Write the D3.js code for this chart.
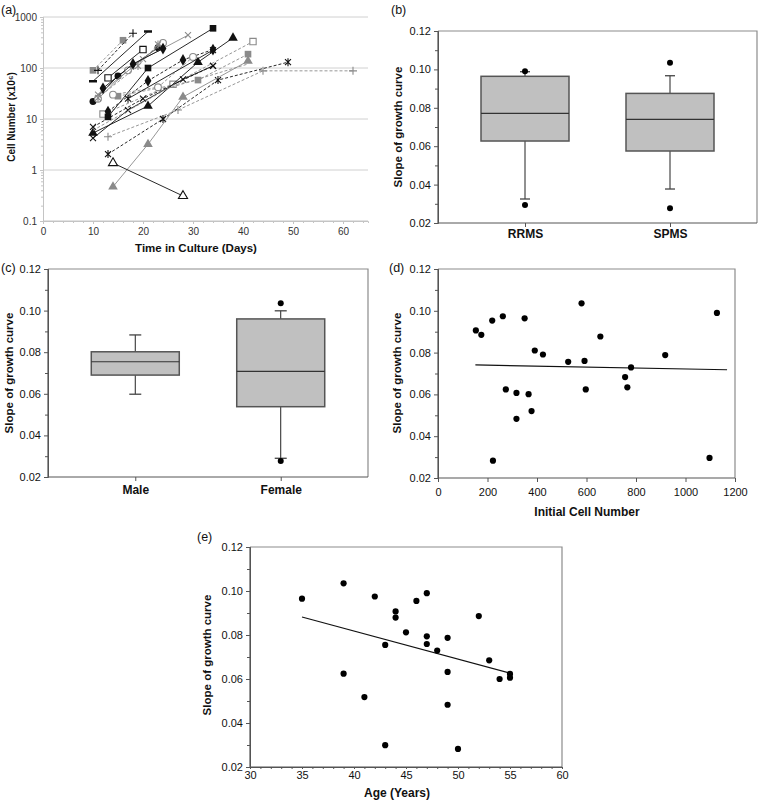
<!DOCTYPE html>
<html><head><meta charset="utf-8">
<script src="https://cdn.jsdelivr.net/npm/d3@7"></script>
<style>body{margin:0;background:#fff}</style>
</head><body>
<script>
// ---------- Panel (a): growth curves ----------
const aDays = [[10,16],[11,18],[10,21],[13,20],[10,15,23],[11,17,24],[11,20,29],[11,19,23],[12,18,24],[12,26,42],[13,21,34],[10,21,31,38],[13,21,28,34],[10,17,28,34],[10,20,34],[13,27,44,62],[13,24,35,49],[14,21,28,41],[14,28],[15,31,41],[14,23,30],[17,34],[10,25,41]];
const aCells = [[90,350],[90,480],[55,520],[64,230],[22,70,250],[25,90,310],[30,150,440],[26,110,290],[40,120,240],[12.5,48,330],[11,100,600],[5.3,18,130,390],[14,56,144,230],[4.2,15,60,110],[7,25,110],[4.5,15,88,88],[2.05,10,58,130],[0.47,3.2,27,137],[1.37,0.31],[28,58,187],[30,42,165],[25,225],[6,40,120]];
const aMarker = ['sq','plus','dash','sqo','cir','ciro','x','ast','dia','sqo','sq','tri','dia','x','x','plus','ast','tri','trio','sq','ciro','ast','none'];
const aTone = ['g','k','k','k','k','g','g','g','k','g','k','k','k','k','k','g','k','g','k','g','g','k','g'];
const aDashed = [1,1,0,0,0,0,0,1,0,1,0,0,1,0,1,1,1,0,0,1,1,0,1];
const aYTicks = [0.1,1,10,100,1000];
const aXTicks = [0,10,20,30,40,50,60];

// ---------- Panel (b): MS type ----------
const bCats = ['RRMS','SPMS'];
const bQ1 = [0.0627,0.0575], bMed = [0.0771,0.0740], bQ3 = [0.0964,0.0875];
const bLo = [0.0325,0.0377], bHi = [0.0988,0.0967];
const bOut = [[0.0990,0.0294],[0.1035,0.0277]];

// ---------- Panel (c): sex ----------
const cCats = ['Male','Female'];
const cQ1 = [0.0690,0.0538], cMed = [0.0754,0.0708], cQ3 = [0.0802,0.0960];
const cLo = [0.0598,0.0290], cHi = [0.0883,0.0999];
const cOut = [[],[0.1035,0.0277]];

// ---------- Panel (d): initial cell number ----------
const dX = [153,175,219,262,350,580,1127,656,391,424,526,592,780,918,756,765,597,274,317,366,378,317,222,1097];
const dY = [0.0906,0.0885,0.0953,0.0974,0.0964,0.1036,0.0990,0.0877,0.0810,0.0791,0.0756,0.0760,0.0729,0.0788,0.0683,0.0634,0.0624,0.0624,0.0607,0.0601,0.0520,0.0483,0.0283,0.0296];
const dFitX = [151,1168], dFitY = [0.0741,0.0718];

// ---------- Panel (e): age ----------
const eX = [35,39,39,41,42,43,43,44,44,45,46,47,47,47,48,49,49,49,50,52,53,54,55,55];
const eY = [0.0965,0.1035,0.0624,0.0518,0.0975,0.0755,0.0299,0.0907,0.0879,0.0812,0.0955,0.0990,0.0794,0.0759,0.0729,0.0787,0.0632,0.0483,0.0282,0.0886,0.0685,0.0600,0.0623,0.0606];
const eFitX = [35,55], eFitY = [0.0882,0.0627];

const slopeTicks = [0.02,0.04,0.06,0.08,0.10,0.12];
const slopeMinor = [0.03,0.05,0.07,0.09,0.11];

// ================= drawing =================
const svg = d3.select('body').append('svg').attr('width',760).attr('height',805)
  .style('font-family','"Liberation Sans", Arial, Helvetica, sans-serif');
svg.append('rect').attr('width',760).attr('height',805).attr('fill','#fff');

const AX = '#555', FR = '#8c8c8c';
const TONE = {k:'#111', g:'#8a8a8a'};

function panelLabel(txt,x,y){
  svg.append('text').attr('x',x).attr('y',y).attr('font-size',12.5).attr('fill','#111').text(txt);
}
function styleAxis(sel,col,txtCol,fs,bold){
  sel.select('.domain').attr('stroke',col);
  sel.selectAll('.tick line').attr('stroke',col);
  sel.selectAll('.tick text').attr('fill',txtCol).attr('font-size',fs)
     .attr('font-family','"Liberation Sans", Arial, sans-serif')
     .attr('font-weight',bold?'bold':'normal');
}
function yTitle(txt,x,y,fs){
  svg.append('text').attr('transform',`translate(${x},${y}) rotate(-90)`)
    .attr('text-anchor','middle').attr('dy','0.35em').attr('font-weight','bold')
    .attr('font-size',fs).attr('fill','#111').text(txt);
}
function xTitle(txt,x,y,fs){
  svg.append('text').attr('x',x).attr('y',y).attr('text-anchor','middle')
    .attr('font-weight','bold').attr('font-size',fs).attr('fill','#111').text(txt);
}

// ---------- (a) ----------
(function(){
  const P={x0:43,x1:368,y0:17,y1:221};
  const x=d3.scaleLinear().domain([0,65]).range([P.x0,P.x1]);
  const y=d3.scaleLog().domain([0.1,1000]).range([P.y1,P.y0]);
  const g=svg.append('g');
  g.selectAll('line.grid').data(aYTicks.slice(1)).join('line')
    .attr('x1',P.x0).attr('x2',P.x1).attr('y1',d=>y(d)).attr('y2',d=>y(d))
    .attr('stroke','#d0d0d0');
  const minorY = y.ticks().filter(v=>aYTicks.indexOf(v)<0);
  const ym=g.append('g').attr('transform',`translate(${P.x0},0)`)
    .call(d3.axisLeft(y).tickValues(minorY).tickFormat('').tickSize(2));
  styleAxis(ym,'#c4c4c4','#333',10);
  const ya=g.append('g').attr('transform',`translate(${P.x0},0)`)
    .call(d3.axisLeft(y).tickValues(aYTicks).tickFormat(d=>String(d)).tickSize(3).tickPadding(3));
  styleAxis(ya,'#c4c4c4','#333',10);
  const xm=g.append('g').attr('transform',`translate(0,${P.y1})`)
    .call(d3.axisBottom(x).tickValues(d3.range(0,65,2)).tickFormat('').tickSize(2));
  styleAxis(xm,'#c4c4c4','#333',10);
  const xa=g.append('g').attr('transform',`translate(0,${P.y1})`)
    .call(d3.axisBottom(x).tickValues(aXTicks).tickSize(3).tickPadding(4));
  styleAxis(xa,'#c4c4c4','#333',10);
  xa.select('.domain').attr('d',`M${P.x0},0H${P.x1}`);

  const line=d3.line().x(d=>x(d[0])).y(d=>y(d[1]));
  const series=aDays.map((ds,i)=>({i, pts:ds.map((d,j)=>[d,aCells[i][j]]), m:aMarker[i], c:TONE[aTone[i]], dash:aDashed[i]}));
  const sg=g.selectAll('g.s').data(series).join('g');
  sg.append('path').attr('d',d=>line(d.pts)).attr('fill','none')
    .attr('stroke',d=>d.c).attr('stroke-width',0.9)
    .attr('stroke-dasharray',d=>d.dash?'3,2':null);
  const shapes={
    sq:d3.symbol(d3.symbolSquare,44)(), sqo:d3.symbol(d3.symbolSquare,40)(),
    dia:d3.symbol(d3.symbolDiamond,40)(), cir:d3.symbol(d3.symbolCircle,38)(),
    ciro:d3.symbol(d3.symbolCircle,36)(), tri:d3.symbol(d3.symbolTriangle,40)(),
    trio:d3.symbol(d3.symbolTriangle,36)(),
    x:'M-3,-3L3,3M-3,3L3,-3', plus:'M-4,0L4,0M0,-4L0,4',
    ast:'M-3,-3L3,3M-3,3L3,-3M0,-4L0,4', dash:'M-4,0L4,0', none:''
  };
  sg.each(function(s){
    d3.select(this).selectAll('path.m').data(s.pts).join('path').attr('class','m')
      .attr('transform',d=>`translate(${x(d[0])},${y(d[1])})`)
      .attr('d',shapes[s.m])
      .attr('fill',()=>{
        if(s.m==='sqo'||s.m==='ciro'||s.m==='trio') return '#fff';
        if(['x','plus','ast','dash','none'].indexOf(s.m)>=0) return 'none';
        return s.c; })
      .attr('stroke',()=>(['sq','dia','cir','tri'].indexOf(s.m)>=0)?'none':s.c)
      .attr('stroke-width',s.m==='dash'?2.5:1.1);
  });
  yTitle('Cell Number (x10\u2076)',11,117,10);
  xTitle('Time in Culture (Days)',196,252,11.5);
  panelLabel('(a)',1,14);
})();

// ---------- box panels ----------
function boxPanel(P,cats,q1,med,q3,lo,hi,outs,capW,pad){
  const g=svg.append('g');
  const x=d3.scalePoint().domain(cats).range([P.x0,P.x1]).padding(0.6);
  const y=d3.scaleLinear().domain([0.02,0.12]).range([P.y1,P.y0]);
  g.append('path').attr('d',`M${P.x0},${P.y0}H${P.x1}V${P.y1}`).attr('fill','none').attr('stroke',FR).attr('stroke-width',1.2);
  const bw=88;
  const data=cats.map((c,i)=>({c,q1:q1[i],med:med[i],q3:q3[i],lo:lo[i],hi:hi[i],out:outs[i]}));
  const bg=g.selectAll('g.b').data(data).join('g');
  bg.append('line').attr('x1',d=>x(d.c)).attr('x2',d=>x(d.c)).attr('y1',d=>y(d.q3)).attr('y2',d=>y(d.hi)).attr('stroke','#222');
  bg.append('line').attr('x1',d=>x(d.c)).attr('x2',d=>x(d.c)).attr('y1',d=>y(d.q1)).attr('y2',d=>y(d.lo)).attr('stroke','#222');
  bg.append('line').attr('x1',d=>x(d.c)-capW/2).attr('x2',d=>x(d.c)+capW/2).attr('y1',d=>y(d.hi)).attr('y2',d=>y(d.hi)).attr('stroke','#444').attr('stroke-width',1.3);
  bg.append('line').attr('x1',d=>x(d.c)-capW/2).attr('x2',d=>x(d.c)+capW/2).attr('y1',d=>y(d.lo)).attr('y2',d=>y(d.lo)).attr('stroke','#444').attr('stroke-width',1.3);
  bg.append('rect').attr('x',d=>x(d.c)-bw/2).attr('width',bw).attr('y',d=>y(d.q3)).attr('height',d=>y(d.q1)-y(d.q3))
    .attr('fill','#c0c0c0').attr('stroke','#555').attr('stroke-width',1.5);
  bg.append('line').attr('x1',d=>x(d.c)-bw/2).attr('x2',d=>x(d.c)+bw/2).attr('y1',d=>y(d.med)).attr('y2',d=>y(d.med)).attr('stroke','#333').attr('stroke-width',1.2);
  bg.each(function(d){
    d3.select(this).selectAll('circle').data(d.out).join('circle')
      .attr('cx',x(d.c)).attr('cy',v=>y(v)).attr('r',3).attr('fill','#000');
  });
  axesSlope(g,P,y);
  const xa=g.append('g').attr('transform',`translate(0,${P.y1})`).call(d3.axisBottom(x).tickSize(4).tickPadding(pad));
  styleAxis(xa,AX,'#111',12,true);
  xa.select('.domain').attr('d',`M${P.x0},0H${P.x1}`);
}
function axesSlope(g,P,y){
  const ym=g.append('g').attr('transform',`translate(${P.x0},0)`)
    .call(d3.axisLeft(y).tickValues(slopeMinor).tickFormat('').tickSize(3));
  styleAxis(ym,AX,'#111',11);
  const ya=g.append('g').attr('transform',`translate(${P.x0},0)`)
    .call(d3.axisLeft(y).tickValues(slopeTicks).tickFormat(d3.format('.2f')).tickSize(4).tickPadding(3));
  styleAxis(ya,AX,'#111',11);
  ya.select('.domain').attr('d',`M0,${P.y1}V${P.y0}`).attr('stroke-width',1.2);
}
function scatterPanel(P,xd,xs,ys,fx,fy,xt,xminor,tsz,pad){
  const g=svg.append('g');
  const x=d3.scaleLinear().domain(xd).range([P.x0,P.x1]);
  const y=d3.scaleLinear().domain([0.02,0.12]).range([P.y1,P.y0]);
  g.append('path').attr('d',`M${P.x0},${P.y0}H${P.x1}V${P.y1}`).attr('fill','none').attr('stroke',FR).attr('stroke-width',1.2);
  axesSlope(g,P,y);
  if(xminor){
    const xm=g.append('g').attr('transform',`translate(0,${P.y1})`)
      .call(d3.axisBottom(x).tickValues(xminor).tickFormat('').tickSize(2));
    styleAxis(xm,AX,'#111',11);
  }
  const xa=g.append('g').attr('transform',`translate(0,${P.y1})`)
    .call(d3.axisBottom(x).tickValues(xt).tickFormat(d3.format('d')).tickSize(tsz).tickPadding(pad));
  styleAxis(xa,AX,'#111',11);
  xa.select('.domain').attr('d',`M${P.x0},0H${P.x1}`).attr('stroke-width',1.2);
  g.append('path').datum(fx.map((v,i)=>[v,fy[i]]))
    .attr('d',d3.line().x(d=>x(d[0])).y(d=>y(d[1]))).attr('stroke','#111').attr('stroke-width',1.2).attr('fill','none');
  g.selectAll('circle').data(xs.map((v,i)=>[v,ys[i]])).join('circle')
    .attr('cx',d=>x(d[0])).attr('cy',d=>y(d[1])).attr('r',3.1).attr('fill','#000');
}

boxPanel({x0:438,x1:757,y0:31,y1:223},bCats,bQ1,bMed,bQ3,bLo,bHi,bOut,10,2);
yTitle('Slope of growth curve',398,127,11.5);
panelLabel('(b)',391,14);

boxPanel({x0:48,x1:368,y0:269,y1:477},cCats,cQ1,cMed,cQ3,cLo,cHi,cOut,12,4);
yTitle('Slope of growth curve',9,373,11.5);
panelLabel('(c)',1,272);

scatterPanel({x0:438,x1:735,y0:269,y1:478},[0,1200],dX,dY,dFitX,dFitY,d3.range(0,1201,200),null,4,6);
yTitle('Slope of growth curve',397,373,11.5);
xTitle('Initial Cell Number',587,516,12);
panelLabel('(d)',389,272);

scatterPanel({x0:250,x1:562,y0:547,y1:767},[30,60],eX,eY,eFitX,eFitY,d3.range(30,61,5),d3.range(30,61,1),2,2);
yTitle('Slope of growth curve',207,655,11.5);
xTitle('Age (Years)',397,797,12);
panelLabel('(e)',197,541);
</script>
</body></html>
